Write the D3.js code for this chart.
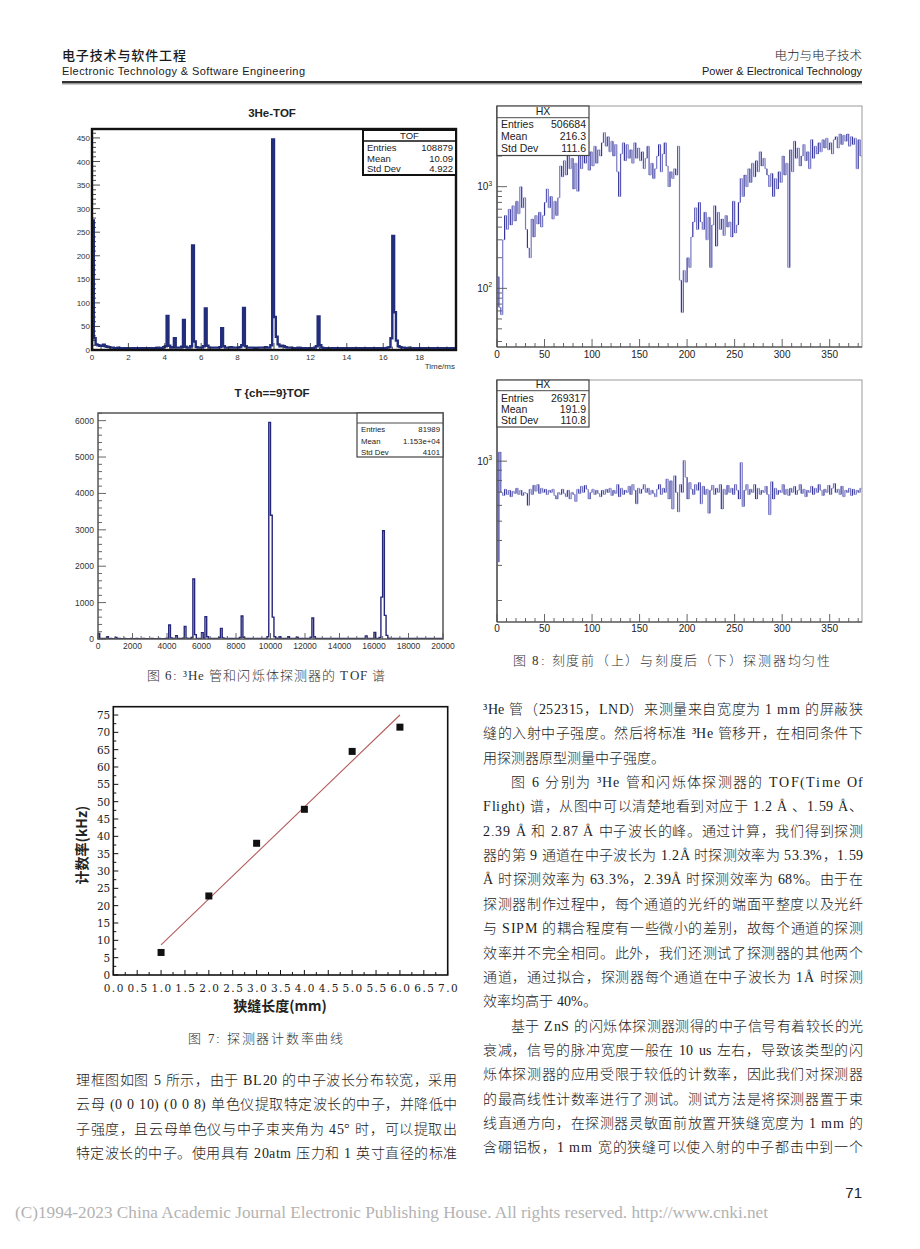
<!DOCTYPE html>
<html><head><meta charset="utf-8">
<script src="https://cdn.jsdelivr.net/npm/d3@7"></script>
<style>
@font-face{font-family:"BodyMix";src:local("Liberation Serif");unicode-range:U+0000-024F,U+2000-206F,U+00B0-00C5;}
@font-face{font-family:"BodyMix";src:local("Noto Sans CJK SC Light"),local("NotoSansCJKsc-Light"),local("Noto Sans CJK SC");unicode-range:U+3000-303F,U+4E00-9FFF,U+FF00-FFEF;}
html,body{margin:0;padding:0;background:#fff;}svg{display:block;}
</style>
</head><body>
<svg id="page" width="920" height="1249"></svg>
<script>
// ===================== DATA =====================
// Fig 6 top: 3He tube TOF, bins of 0.1 ms (0..20 ms)
const he3TofCounts = [
275,25,12,10,9,9,11,8,7,6, 5,5,4,4,5,4,4,3,4,4, 4,4,3,4,4,4,3,4,4,4, 4,3,4,4,4,4,5,4,4,6,
8,72,9,5,6,25,5,5,5,7, 64,7,5,5,8,222,18,6,5,5, 5,8,88,9,5,5,5,5,5,5, 6,46,8,5,5,5,6,5,5,5,
5,6,10,89,8,5,5,5,5,4, 4,5,5,5,5,6,5,5,10,447, 70,28,12,8,9,8,6,5,5,5, 4,4,4,5,4,4,4,4,4,4,
4,4,5,8,71,10,5,4,4,4, 4,4,3,4,4,4,4,3,4,4, 4,4,4,3,4,4,4,4,3,4, 4,4,4,4,3,4,4,4,4,4,
4,4,5,6,25,242,80,20,8,6, 5,5,4,4,5,4,4,4,3,4, 4,4,4,3,4,4,4,4,3,4, 4,4,3,4,4,4,3,4,4,3];
const he3TofBinWidth = 0.1;
const he3TofTicksX = [0,2,4,6,8,10,12,14,16,18];
const he3TofTicksY = [0,50,100,150,200,250,300,350,400,450];
const he3TofStats = [["Entries","108879"],["Mean","10.09"],["Std Dev","4.922"]];

// Fig 6 bottom: scintillator channel 9 TOF, bins of 100 (0..20000)
const scintTofCounts = [
150,15,12,10,12,60,10,12,10,10, 45,10,12,10,10,12,10,10,10,12, 10,10,12,10,10,10,12,10,10,10, 10,12,10,10,10,12,10,10,10,12,
20,385,30,12,12,92,12,12,14,20, 348,25,12,12,40,1648,120,15,12,14, 174,20,614,60,14,12,12,12,12,14, 40,293,30,12,12,12,12,12,12,14,
12,14,40,632,50,14,12,12,12,12, 12,12,14,12,12,12,14,12,60,5952, 3400,600,60,20,14,60,14,12,12,12, 60,12,12,12,12,50,12,12,12,14,
12,14,12,50,577,60,14,12,12,12, 12,12,12,12,12,12,12,12,12,12, 12,12,12,12,12,12,12,12,12,12, 12,12,12,12,12,82,12,12,12,12,
183,12,14,40,1150,2976,650,100,20,12, 12,12,12,12,12,12,12,12,12,12, 12,12,12,12,12,12,12,12,12,12, 12,12,12,12,12,12,12,12,12,12];
const scintTofBinWidth = 100;
const scintTofTicksX = [0,2000,4000,6000,8000,10000,12000,14000,16000,18000,20000];
const scintTofTicksY = [0,1000,2000,3000,4000,5000,6000];
const scintTofStats = [["Entries","81989"],["Mean","1.153e+04"],["Std Dev","4101"]];

// Fig 8: HX uniformity, bins of 2 channels (0..384)
const hxBefore = [
130,65,55,300,520,380,600,420,650,460, 720,540,1000,620,780,380,250,200,480,320,
520,430,560,400,520,700,950,620,800,480, 720,520,780,1600,1250,1800,1300,2100,1500,1900,
950,1700,900,2300,1500,2600,1700,2400,1450,2200, 1600,2500,1700,2300,2000,2700,3400,2500,3100,2200,
2800,2000,2600,1400,800,2100,2700,1800,2600,1900, 2300,1700,2700,1900,2400,1800,2200,1500,1900,2500,
1300,1700,1200,1500,2000,2600,1400,2100,2700,1600, 1000,1400,1200,1500,1300,2500,120,58,150,115,
200,160,320,450,620,380,700,450,380,560, 300,500,160,420,650,260,560,380,480,330,
520,400,450,320,720,350,420,700,1200,800, 1300,1000,1500,1100,1700,1250,1800,1400,2200,1600,
1900,1500,1300,1000,1350,800,1200,950,1400,1100, 2000,1300,1700,160,2300,1400,2800,1900,2400,1600,
2000,2600,1800,2200,1500,2900,1900,2500,2100,2700, 2200,2900,2400,3000,2300,2700,2100,2900,3100,2400,
3300,2600,3200,2800,3300,2500,3100,2600,3000,1500, 2900,2000];
const hxAfter = [
312,1110,697,672,723,680,714,663,706,689, 731,680,714,672,697,689,600,723,680,756,
706,764,689,731,697,723,680,714,697,723, 672,646,697,680,723,689,663,714,646,697,
680,628,723,689,748,697,756,723,646,697, 723,680,714,689,663,714,680,723,697,731,
672,714,689,764,663,731,680,714,697,748, 680,764,714,611,731,689,723,764,697,731,
680,714,689,663,723,764,680,731,697,813, 646,797,575,845,697,557,764,697,1008,830,
646,781,723,680,764,714,781,611,748,680, 723,548,714,756,680,731,697,764,575,723,
680,756,697,731,680,764,714,646,985,592, 714,764,680,723,697,764,646,731,680,714,
697,748,680,538,789,646,731,680,714,697, 764,680,723,672,731,697,748,680,714,764,
689,723,663,714,697,748,680,731,697,764, 714,672,723,697,756,680,731,772,697,723,
680,748,663,714,697,731,672,723,680,714, 697,731];
const hxBinWidth = 2;
const hxTicksX = [0,50,100,150,200,250,300,350];
const hxBeforeStats = [["Entries","506684"],["Mean","216.3"],["Std Dev","111.6"]];
const hxAfterStats = [["Entries","269317"],["Mean","191.9"],["Std Dev","110.8"]];

// Fig 7: count rate vs slit length
const slitLength = [1,2,3,4,5,6];
const countRate = [6.5,22.8,38,47.8,64.5,71.5];
const fitLineX = [1,6];
const fitLineY = [8.7,75];
const rateTicksX = [0,0.5,1,1.5,2,2.5,3,3.5,4,4.5,5,5.5,6,6.5,7];
const rateTicksY = [0,5,10,15,20,25,30,35,40,45,50,55,60,65,70,75];

// Text
const bodyRight = [
 {t:"³He 管（252315，LND）来测量来自宽度为 1 mm 的屏蔽狭", full:true},
 {t:"缝的入射中子强度。然后将标准 ³He 管移开，在相同条件下", full:true},
 {t:"用探测器原型测量中子强度。", full:false},
 {t:"图 6 分别为 ³He 管和闪烁体探测器的 TOF(Time Of", full:true, indent:true},
 {t:"Flight) 谱，从图中可以清楚地看到对应于 1.2 Å 、1.59 Å、", full:true},
 {t:"2.39 Å 和 2.87 Å 中子波长的峰。通过计算，我们得到探测", full:true},
 {t:"器的第 9 通道在中子波长为 1.2Å 时探测效率为 53.3%，1.59", full:true},
 {t:"Å 时探测效率为 63.3%，2.39Å 时探测效率为 68%。由于在", full:true},
 {t:"探测器制作过程中，每个通道的光纤的端面平整度以及光纤", full:true},
 {t:"与 SIPM 的耦合程度有一些微小的差别，故每个通道的探测", full:true},
 {t:"效率并不完全相同。此外，我们还测试了探测器的其他两个", full:true},
 {t:"通道，通过拟合，探测器每个通道在中子波长为 1Å 时探测", full:true},
 {t:"效率均高于 40%。", full:false},
 {t:"基于 ZnS 的闪烁体探测器测得的中子信号有着较长的光", full:true, indent:true},
 {t:"衰减，信号的脉冲宽度一般在 10 us 左右，导致该类型的闪", full:true},
 {t:"烁体探测器的应用受限于较低的计数率，因此我们对探测器", full:true},
 {t:"的最高线性计数率进行了测试。测试方法是将探测器置于束", full:true},
 {t:"线直通方向，在探测器灵敏面前放置开狭缝宽度为 1 mm 的", full:true},
 {t:"含硼铝板，1 mm 宽的狭缝可以使入射的中子都击中到一个", full:true}
];
const bodyLeft = [
 "理框图如图 5 所示，由于 BL20 的中子波长分布较宽，采用",
 "云母 (0 0 10) (0 0 8) 单色仪提取特定波长的中子，并降低中",
 "子强度，且云母单色仪与中子束夹角为 45° 时，可以提取出",
 "特定波长的中子。使用具有 20atm 压力和 1 英寸直径的标准"
];

// ===================== DRAW =====================
const svg = d3.select('#page');
svg.append('rect').attr('width',920).attr('height',1249).attr('fill','#fff');
const defs = svg.append('defs');
const SANS = '"Liberation Sans", Arial, sans-serif';
const CJK = '"Noto Sans CJK SC", sans-serif';
const BODY = '"BodyMix", "Liberation Serif", "Noto Sans CJK SC", serif';
const SERIF = '"Liberation Serif", "Noto Sans CJK SC", serif';
const DSERIF = '"DejaVu Serif", "Liberation Serif", serif';

function txt(g, x, y, s, size, fam, opts={}) {
  const t = g.append('text').attr('x',x).attr('y',y).text(s)
    .style('font-family',fam).style('font-size',size+'px')
    .attr('fill', opts.fill || '#222');
  if (opts.anchor) t.attr('text-anchor',opts.anchor);
  if (opts.weight) t.style('font-weight',opts.weight);
  if (opts.len) t.attr('textLength',opts.len).attr('lengthAdjust', opts.adj || 'spacing');
  return t;
}
let clipId = 0;
function clipRect(L,T,R,B){
  const id = 'c'+(clipId++);
  defs.append('clipPath').attr('id',id).append('rect').attr('x',L).attr('y',T).attr('width',R-L).attr('height',B-T);
  return 'url(#'+id+')';
}
function histPts(vals, bw, base) {
  const pts = [];
  if (base !== null) pts.push([0, base]);
  vals.forEach((v,i)=>pts.push([i*bw, v]));
  pts.push([vals.length*bw, vals[vals.length-1]]);
  if (base !== null) pts.push([vals.length*bw, base]);
  return pts;
}
function statsBox(g, x, y, w, h, head, headH, rows, rowYs, fs, sw, stroke) {
  g.append('rect').attr('x',x).attr('y',y).attr('width',w).attr('height',h)
    .attr('fill','#fff').attr('stroke',stroke).attr('stroke-width',sw);
  if (headH) g.append('line').attr('x1',x).attr('x2',x+w).attr('y1',y+headH).attr('y2',y+headH)
    .attr('stroke',stroke).attr('stroke-width',sw*0.8);
  if (head) txt(g, x+w/2, y+headH-2.5, head, fs, SANS, {anchor:'middle'});
  rows.forEach((r,i)=>{
    txt(g, x+4, rowYs[i], r[0], fs, SANS);
    txt(g, x+w-3, rowYs[i], r[1], fs, SANS, {anchor:'end'});
  });
}

// ---------- Header ----------
const hdr = svg.append('g');
txt(hdr, 62, 60, '电子技术与软件工程', 13, CJK, {weight:500, fill:'#1a1a1a', len:124});
txt(hdr, 62, 75, 'Electronic Technology & Software Engineering', 11, SANS, {fill:'#1a1a1a', len:243});
txt(hdr, 862, 60, '电力与电子技术', 12.5, CJK, {anchor:'end', fill:'#1a1a1a', weight:300});
txt(hdr, 862, 75, 'Power & Electronical Technology', 11, SANS, {anchor:'end', fill:'#1a1a1a'});
hdr.append('rect').attr('x',62).attr('y',81).attr('width',800).attr('height',2).attr('fill','#333');
hdr.append('rect').attr('x',62).attr('y',83).attr('width',800).attr('height',1.5).attr('fill','#999');

// ---------- Chart 1: 3He-TOF ----------
(function(){
  const L=92,R=456,T=129,B=350;
  const g = svg.append('g');
  const x = d3.scaleLinear().domain([0,20]).range([L,R]);
  const y = d3.scaleLinear().domain([0,469]).range([B,T]);
  txt(g, 272, 117, '3He-TOF', 11.5, SANS, {anchor:'middle', weight:600});
  const line = d3.line().x(d=>x(d[0])).y(d=>y(d[1])).curve(d3.curveStepAfter);
  g.append('path').attr('d', line(histPts(he3TofCounts, he3TofBinWidth, 0)))
    .attr('fill','none').attr('stroke','#222d7c').attr('stroke-width',2.4)
    .attr('clip-path', clipRect(L,T,R,B));
  d3.range(0,469,10).forEach(v=>{
    const major = v%50===0;
    g.append('line').attr('x1',L).attr('x2',L+(major?8:4)).attr('y1',y(v)).attr('y2',y(v)).attr('stroke','#222').attr('stroke-width',0.8);
  });
  he3TofTicksY.forEach(v=> txt(g, L-2, y(v)+3, String(v), 8, SANS, {anchor:'end', fill:'#333'}));
  d3.range(0,20.01,0.5).forEach(v=>{
    const major = Math.abs(v%2)<1e-6;
    g.append('line').attr('x1',x(v)).attr('x2',x(v)).attr('y1',B).attr('y2',B-(major?7:3.5)).attr('stroke','#222').attr('stroke-width',0.8);
  });
  he3TofTicksX.forEach(v=> txt(g, x(v), 360, String(v), 8, SANS, {anchor:'middle', fill:'#333'}));
  txt(g, 455, 369, 'Time/ms', 8, SANS, {anchor:'end', fill:'#333'});
  g.append('rect').attr('x',L).attr('y',T).attr('width',R-L).attr('height',B-T)
    .attr('fill','none').attr('stroke','#111').attr('stroke-width',2.4);
  statsBox(g, 363, 130, 93, 45, 'TOF', 11, he3TofStats, [151,162,172], 9.5, 2, '#111');
})();

// ---------- Chart 2: T {ch==9}TOF ----------
(function(){
  const L=98,R=443,T=413,B=639;
  const g = svg.append('g');
  const x = d3.scaleLinear().domain([0,20000]).range([L,R]);
  const y = d3.scaleLinear().domain([0,6210]).range([B,T]);
  txt(g, 272, 397, 'T {ch==9}TOF', 11.5, SANS, {anchor:'middle', weight:600});
  const line = d3.line().x(d=>x(d[0])).y(d=>y(d[1])).curve(d3.curveStepAfter);
  g.append('path').attr('d', line(histPts(scintTofCounts, scintTofBinWidth, 0)))
    .attr('fill','none').attr('stroke','#26267a').attr('stroke-width',1.4)
    .attr('clip-path', clipRect(L,T,R,B));
  d3.range(0,6201,200).forEach(v=>{
    const major = v%1000===0;
    g.append('line').attr('x1',L).attr('x2',L+(major?8:4)).attr('y1',y(v)).attr('y2',y(v)).attr('stroke','#555').attr('stroke-width',0.9);
  });
  scintTofTicksY.forEach(v=> txt(g, L-4, y(v)+3, String(v), 8.5, SANS, {anchor:'end', fill:'#333'}));
  d3.range(0,20001,500).forEach(v=>{
    const major = v%2000===0;
    g.append('line').attr('x1',x(v)).attr('x2',x(v)).attr('y1',B).attr('y2',B-(major?6:3)).attr('stroke','#555').attr('stroke-width',0.9);
  });
  scintTofTicksX.forEach(v=> txt(g, x(v), 649, String(v), 8.5, SANS, {anchor:'middle', fill:'#333'}));
  g.append('rect').attr('x',L).attr('y',T).attr('width',R-L).attr('height',B-T)
    .attr('fill','none').attr('stroke','#555').attr('stroke-width',1.5);
  statsBox(g, 357, 413, 86, 44, '', 10, scintTofStats, [432,443.5,454.5], 7.8, 1.2, '#444');
})();

// ---------- Chart 3/4: HX ----------
function hxChart(vals, stats, T, B, yDomain, tickBase, statsYs, headY){
  const L=497, R=862;
  const g = svg.append('g');
  const x = d3.scaleLinear().domain([0,384]).range([L,R]);
  const y = d3.scaleLog().domain(yDomain).range([B,T]);
  const yc = v => y(Math.max(v, yDomain[0]));
  const clip = clipRect(L,T,R,B);
  g.append('g').attr('clip-path',clip).selectAll('line.h').data(vals).enter().append('line')
    .attr('x1',(d,i)=>x(i*hxBinWidth)).attr('x2',(d,i)=>x((i+1)*hxBinWidth))
    .attr('y1',d=>yc(d)).attr('y2',d=>yc(d))
    .attr('stroke','#b4b4dc').attr('stroke-width',1);
  g.append('g').attr('clip-path',clip).selectAll('line.v').data(vals.slice(1)).enter().append('line')
    .attr('x1',(d,i)=>x((i+1)*hxBinWidth)).attr('x2',(d,i)=>x((i+1)*hxBinWidth))
    .attr('y1',(d,i)=>yc(vals[i])).attr('y2',d=>yc(d))
    .attr('stroke',(d,i)=> i%3===0 ? '#34349a' : (i%3===1 ? '#5a5ab6' : '#7878c4')).attr('stroke-width',1.2);
  g.append('rect').attr('x',L).attr('y',T).attr('width',R-L).attr('height',B-T)
    .attr('fill','none').attr('stroke','#999').attr('stroke-width',1);
  g.append('line').attr('x1',L).attr('x2',L).attr('y1',T).attr('y2',B).attr('stroke','#333').attr('stroke-width',1.2);
  g.append('line').attr('x1',L).attr('x2',R).attr('y1',B).attr('y2',B).attr('stroke','#333').attr('stroke-width',1.2);
  y.ticks().forEach(v=>{
    const e = Math.log10(v), major = Math.abs(e-Math.round(e))<1e-9;
    g.append('line').attr('x1',L).attr('x2',L+(major?10:5)).attr('y1',y(v)).attr('y2',y(v)).attr('stroke','#555').attr('stroke-width',0.9);
    if (major) {
      const t = txt(g, L-5, y(v)+3.5, '10', 10, SANS, {anchor:'end', fill:'#222'});
      t.append('tspan').attr('dy',-4.5).style('font-size','6.5px').text(String(Math.round(e)));
    }
  });
  d3.range(0,385,10).forEach(v=>{
    const major = v%50===0;
    g.append('line').attr('x1',x(v)).attr('x2',x(v)).attr('y1',B).attr('y2',B-(major?8:4)).attr('stroke','#555').attr('stroke-width',0.9);
  });
  hxTicksX.forEach(v=> txt(g, x(v), tickBase, String(v), 10, SANS, {anchor:'middle', fill:'#222'}));
  statsBox(g, L, T, 92, statsYs[2]-T+3.5, 'HX', headY, stats, statsYs, 10.5, 1.2, '#444');
}
hxChart(hxBefore, hxBeforeStats, 106, 347, [26.5,6210], 358, [128,140,152], 11.7);
hxChart(hxAfter, hxAfterStats, 380, 622, [156,2553], 632, [401.5,412.5,423.5], 10.7);

// ---------- Chart 7: count rate ----------
(function(){
  const L=113.3,R=447.7,T=706.7,B=975;
  const g = svg.append('g');
  const x = d3.scaleLinear().domain([0,7]).range([L,R]);
  const y = d3.scaleLinear().domain([0,77.4]).range([B,T]);
  d3.range(0,7.01,0.25).forEach(v=>{
    const major = Math.abs((v*2)%1)<1e-6;
    g.append('line').attr('x1',x(v)).attr('x2',x(v)).attr('y1',B).attr('y2',B-(major?5:3)).attr('stroke','#111').attr('stroke-width',1);
  });
  rateTicksX.forEach(v=> txt(g, x(v)+1, 992, v.toFixed(1), 10.5, DSERIF, {anchor:'middle', fill:'#222'}).style('letter-spacing','1.5px'));
  d3.range(0,77.4,2.5).forEach(v=>{
    const major = v%5===0;
    g.append('line').attr('x1',L).attr('x2',L+(major?5:3)).attr('y1',y(v)).attr('y2',y(v)).attr('stroke','#111').attr('stroke-width',1);
  });
  rateTicksY.forEach(v=> txt(g, L-3, y(v)+4, String(v), 10.5, DSERIF, {anchor:'end', fill:'#222'}));
  g.append('rect').attr('x',L).attr('y',T).attr('width',R-L).attr('height',B-T)
    .attr('fill','none').attr('stroke','#111').attr('stroke-width',1.6);
  g.append('path').attr('d', d3.line().x((d,i)=>x(fitLineX[i])).y((d,i)=>y(fitLineY[i]))(fitLineX))
    .attr('stroke','#b25b5b').attr('stroke-width',1.1).attr('fill','none');
  const s = 7;
  g.selectAll('rect.pt').data(slitLength).enter().append('rect').attr('class','pt')
    .attr('x',(d)=>x(d)-s/2).attr('y',(d,i)=>y(countRate[i])-s/2).attr('width',s).attr('height',s).attr('fill','#111');
  txt(g, 280, 1011, '狭缝长度(mm)', 14, CJK, {anchor:'middle', weight:700, fill:'#222'});
  txt(g, 0, 0, '计数率(kHz)', 14, CJK, {anchor:'middle', weight:700, fill:'#222'})
    .attr('transform','translate(87,845) rotate(-90)');
})();

// ---------- Captions ----------
txt(svg, 147, 680, '图 6: ³He 管和闪烁体探测器的 TOF 谱', 13, BODY, {fill:'#333', len:238});
txt(svg, 513, 665, '图 8: 刻度前（上）与刻度后（下）探测器均匀性', 13, BODY, {fill:'#333', len:317});
txt(svg, 188, 1043, '图 7: 探测器计数率曲线', 13, BODY, {fill:'#333', len:155});

// ---------- Body text ----------
bodyRight.forEach((ln,i)=>{
  const x0 = 483 + (ln.indent ? 28 : 0);
  const yb = 714 + i*24.35;
  txt(svg, x0, yb, ln.t, 14, BODY, {fill:'#1a1a1a', len: ln.full ? 863-x0 : null});
});
bodyLeft.forEach((s,i)=>{
  txt(svg, 76, 1085 + i*24.35, s, 14, BODY, {fill:'#1a1a1a', len:381});
});

// ---------- Footer ----------
txt(svg, 862, 1198, '71', 15, SANS, {anchor:'end', fill:'#222'});
txt(svg, 15, 1218, '(C)1994-2023 China Academic Journal Electronic Publishing House. All rights reserved.    http://www.cnki.net', 16, SERIF, {fill:'#b3b3b3', len:753, adj:'spacingAndGlyphs'});
</script>
</body></html>
